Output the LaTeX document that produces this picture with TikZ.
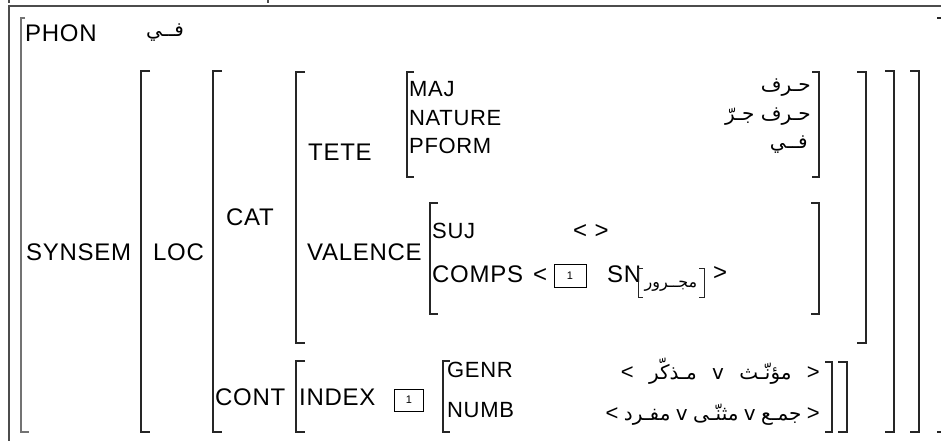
\documentclass[tikz,border=0pt]{standalone}
\usepackage{fontspec}
\setmainfont{Liberation Sans}[LetterSpace=3]
\newfontfamily\arabicfont[Script=Arabic]{DejaVu Sans}
\usetikzlibrary{positioning}

\tikzset{
  feat/.style={font=\fontsize{24}{28}\selectfont, inner sep=0pt, anchor=base west},
  subfeat/.style={font=\fontsize{22}{26}\selectfont, inner sep=0pt, anchor=base west},
  arab/.style={font=\arabicfont\fontsize{20}{24}\selectfont, inner sep=0pt},
  angle/.style={font=\fontsize{22}{26}\selectfont, inner sep=0pt},
  tagbox/.style={draw, line width=0.8pt, minimum width=32pt, minimum height=23pt, inner sep=0pt, font=\fontsize{11}{13}\selectfont},
  brk/.style={line width=1.2pt, draw=black!85},
  frame/.style={line width=1.6pt, draw=black!70},
}

\begin{document}
\begin{tikzpicture}[x=1pt,y=-1pt]
\useasboundingbox (0,0) rectangle (941,441);

% Window frame
\draw[frame] (9,441) -- (9,6) -- (941,6);
\draw[frame] (9,0) -- (9,3);
\draw[frame] (268,0) -- (268,3);

% Outer brackets
\draw[line width=2pt, draw=black!55] (25,18) -| (21,432) -- (29,432);
\draw[brk] (937,18) -- (941,18);
\draw[brk] (937,432) -- (941,432);

% PHON
\node[feat] (phon) at (25,42) {PHON};
\node[arab] (phonval) at (165,33) {فــي};

% SYNSEM
\node[feat] (synsem) at (26,260) {SYNSEM};
\draw[brk] (150,71) -| (141,432) -- (150,432);
\draw[brk] (910,71) -| (919,432) -- (910,432);

% LOC
\node[feat] (loc) at (153,260) {LOC};
\draw[brk] (222,71) -| (213,432) -- (222,432);
\draw[brk] (885,71) -| (894,432) -- (885,432);

% CAT
\node[feat] (cat) at (226,225) {CAT};
\draw[brk] (305,72) -| (296,343) -- (305,343);
\draw[brk] (857,72) -| (866,343) -- (857,343);

% TETE
\node[feat] (tete) at (308,160) {TETE};
\draw[brk] (414,72) -| (407,177) -- (414,177);
\draw[brk] (812,72) -| (819,177) -- (812,177);
\node[subfeat] (maj) at (409,97) {MAJ};
\node[subfeat] (nature) at (409,125) {NATURE};
\node[subfeat] (pform) at (409,153) {PFORM};
\node[arab,anchor=east] (majval) at (811,88) {حـرف};
\node[arab,anchor=east] (natval) at (811,117) {حـرف};
\node[arab,base left=6pt of natval] (natvalb) {جـرّ};
\node[arab,anchor=east] (pformval) at (808,145) {فــي};

% VALENCE
\node[feat] (valence) at (307,260) {VALENCE};
\draw[brk] (438,203) -| (430,314) -- (438,314);
\draw[brk] (811,203) -| (819,314) -- (811,314);
\node[subfeat] (suj) at (432,238) {SUJ};
\node[feat] (sujval) at (573,238) {< >};
\node[feat] (comps) at (432,282) {COMPS};
\node[feat] (compsopen) at (533,282) {<};
\node[tagbox] (taga) at (570,276) {1};
\node[feat] (sn) at (607,282) {SN};
\draw[line width=1pt, draw=black!85] (643,268) -| (638,297) -- (643,297);
\node[arab,font=\arabicfont\fontsize{16}{20}\selectfont] (mjr) at (671,286) {مجــرور};
\draw[line width=1pt, draw=black!85] (699,268) -| (704,297) -- (699,297);
\node[feat] (compsclose) at (713,280) {>};

% CONT
\node[feat] (cont) at (215,405) {CONT};
\draw[brk] (305,361) -| (296,432) -- (305,432);
\draw[brk] (838,362) -| (847,432) -- (838,432);
\node[feat] (index) at (299,405) {INDEX};
\node[tagbox, minimum width=29pt, minimum height=22pt] (tagb) at (409,400) {1};
\draw[brk] (450,361) -| (443,432) -- (450,432);
\draw[brk] (825,362) -| (832,432) -- (825,432);
\node[subfeat] (genr) at (447,377) {GENR};
\node[subfeat] (numb) at (447,417) {NUMB};

% GENR value
\node[angle,anchor=base east] (ggt) at (820,379) {>};
\node[arab,base left=15pt of ggt] (gfem) {مؤنّـث};
\node[arab,base left=15pt of gfem] (gor) {v};
\node[arab,base left=15pt of gor] (gmasc) {مـذكّر};
\node[angle,base left=15pt of gmasc] (glt) {<};

% NUMB value
\node[angle,anchor=base east] (ngt) at (820,420) {>};
\node[arab,base left=5pt of ngt] (nplur) {جمـع};
\node[arab,base left=5pt of nplur] (nora) {v};
\node[arab,base left=5pt of nora] (ndual) {مثنّـى};
\node[arab,base left=5pt of ndual] (norb) {v};
\node[arab,base left=5pt of norb] (nsing) {مفـرد};
\node[angle,base left=5pt of nsing] (nlt) {<};
\end{tikzpicture}
\end{document}
